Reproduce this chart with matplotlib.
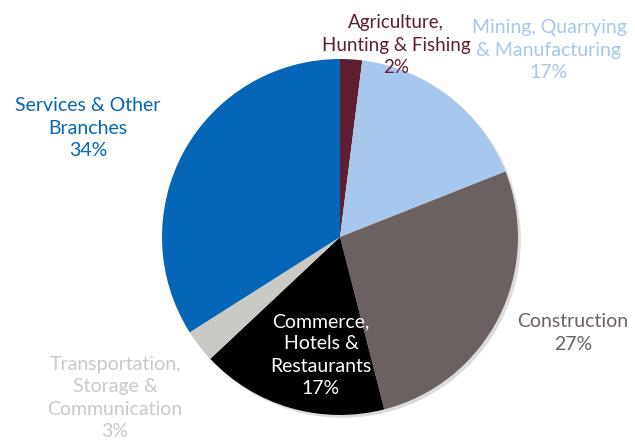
import matplotlib.pyplot as plt
import matplotlib.patheffects as pe
from matplotlib.patches import Circle

# Sector shares of employment
sectors = ['Agriculture,\nHunting & Fishing',
           'Mining, Quarrying\n& Manufacturing',
           'Construction',
           'Commerce,\nHotels &\nRestaurants',
           'Transportation,\nStorage &\nCommunication',
           'Services & Other\nBranches']
shares = [2, 17, 27, 17, 3, 34]
colors = ['#5F1D31', '#A8C7ED', '#6B6161', '#000000', '#C9C9C5', '#0565B6']
label_colors = ['#5F1D31', '#A8C7ED', '#6B6161', '#FFFFFF', '#C9C9C5', '#0565B6']
# label anchor points (pixels from top-left)
label_pos = [(396, 45), (549, 50), (573, 333), (321, 355), (115, 398), (88, 128)]

plt.rcParams['font.family'] = ['Lato', 'DejaVu Sans']

W, H = 635, 443
cx, cy, r = 340, H - 237, 178
fig = plt.figure(figsize=(6.35, 4.43), dpi=100)
ax = fig.add_axes([0, 0, 1, 1])

# soft drop shadow behind the whole pie
shadow = Circle((cx, cy), r, facecolor='white', edgecolor='none', zorder=0)
shadow.set_path_effects([pe.SimplePatchShadow(offset=(2, -2), shadow_rgbFace='#888888', alpha=0.3),
                         pe.Normal()])
ax.add_patch(shadow)

wedges, _ = ax.pie(shares, colors=colors, startangle=90, counterclock=False,
                   center=(cx, cy), radius=r, frame=True,
                   wedgeprops=dict(linewidth=0, zorder=1))

ax.set_xlim(0, W)
ax.set_ylim(0, H)
ax.set_aspect('equal')
ax.axis('off')

for i, (name, val, (x, y), c) in enumerate(zip(sectors, shares, label_pos, label_colors)):
    ax.text(x, H - y, f'{name}\n{val}%', color=c, ha='center', va='center',
            fontsize=13.5 if i == 0 else 14, linespacing=1.38, zorder=3)

fig.savefig('out.png', dpi=100)
